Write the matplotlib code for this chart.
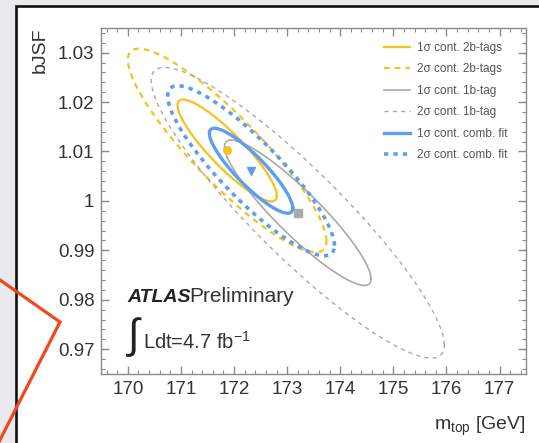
import numpy as np
import matplotlib
matplotlib.use("Agg")
from matplotlib import pyplot as plt
from matplotlib.lines import Line2D
from matplotlib.patches import Rectangle
from matplotlib.ticker import MultipleLocator, FuncFormatter

plt.rcParams["font.family"] = ["Liberation Sans", "DejaVu Sans"]
plt.rcParams["mathtext.fontset"] = "custom"
plt.rcParams["mathtext.rm"] = "Liberation Sans"

# fit results: best point, 1 sigma widths and correlation
fits = ["2b-tags", "1b-tag", "comb. fit"]
mtop_best = [171.87, 173.20, 172.32]
bjsf_best = [1.0102, 0.9976, 1.0061]
sigma_mtop = [0.935, 1.38, 0.785]
sigma_bjsf = [0.0103, 0.0147, 0.0086]
rho = [-0.89, -0.91, -0.88]
n_sigma = [1, 2]

x_ticks = [170, 171, 172, 173, 174, 175, 176, 177]
y_ticks = [0.97, 0.98, 0.99, 1.00, 1.01, 1.02, 1.03]

colors = ["#f5c21e", "#a9a9a9", "#5d9ef0"]
markers = ["o", "s", "v"]
solid_lw = [1.6, 1.2, 2.4]
dash_styles = [(0, (2.6, 2.2)), (0, (3, 3)), (0, (1.2, 1.4))]
dash_lw = [1.6, 1.0, 2.6]

fig = plt.figure(figsize=(5.39, 4.43), dpi=100)
fig.patch.set_facecolor("#e9e9ee")

# white slide panel behind the plot
panel = Rectangle((15.5 / 539, -0.05), 1.1, 1 - 5.5 / 443 + 0.05,
                  transform=fig.transFigure, facecolor="white",
                  edgecolor="#111111", linewidth=1.9, zorder=0)
fig.add_artist(panel)

ax = fig.add_axes([0.188, 0.156, 0.788, 0.781])
ax.set_zorder(1)

t = np.linspace(0, 2 * np.pi, 400)


def contour(i, n):
    s = np.sqrt(1 - rho[i] ** 2)
    x = mtop_best[i] + n * sigma_mtop[i] * np.cos(t)
    y = bjsf_best[i] + n * sigma_bjsf[i] * (rho[i] * np.cos(t) + s * np.sin(t))
    return x, y


handles = []
labels = []
for i, name in enumerate(fits):
    for n in n_sigma:
        x, y = contour(i, n)
        if n == 1:
            ln, = ax.plot(x, y, color=colors[i], lw=solid_lw[i])
        else:
            ln, = ax.plot(x, y, color=colors[i], lw=dash_lw[i], linestyle=dash_styles[i])
        handles.append(ln)
        labels.append(f"{n}\u03c3 cont. {name}")
    ax.plot(mtop_best[i], bjsf_best[i], marker=markers[i], color=colors[i],
            markersize=5.5, zorder=5)

ax.set_xlim(169.5, 177.5)
ax.set_ylim(0.965, 1.035)
ax.set_xticks(x_ticks)
ax.set_yticks(y_ticks)
ax.xaxis.set_minor_locator(MultipleLocator(0.2))
ax.yaxis.set_minor_locator(MultipleLocator(0.002))
ax.yaxis.set_major_formatter(FuncFormatter(lambda v, p: f"{v:g}"))
ax.tick_params(which="both", direction="in", top=True, right=True,
               color="#8a8a8a", labelsize=13.5, labelcolor="#333333")
ax.tick_params(which="major", length=6, width=1, pad=5)
ax.tick_params(which="minor", length=3, width=0.8)
for sp in ax.spines.values():
    sp.set_color("#8a8a8a")
    sp.set_linewidth(1.0)

ax.text(-0.145, 1.0, "bJSF", rotation=90, ha="center", va="top",
        fontsize=14, color="#333333", transform=ax.transAxes)
ax.text(1.0, -0.152, r"m$_{\mathregular{top}}$ [GeV]", ha="right", va="center",
        fontsize=14, color="#333333", transform=ax.transAxes)

ax.text(0.062, 0.209, "ATLAS", fontsize=14, fontweight="bold", fontstyle="italic",
        color="#222222", va="baseline", transform=ax.transAxes)
ax.text(0.208, 0.209, "Preliminary", fontsize=15, color="#333333",
        va="baseline", transform=ax.transAxes)
ax.text(0.062, 0.107, "\u222b", fontsize=30, color="#222222", ha="left",
        va="center", transform=ax.transAxes)
ax.text(0.098, 0.072, r"Ldt=4.7 fb$^{\mathregular{-1}}$", fontsize=14.5,
        color="#333333", va="baseline", transform=ax.transAxes)

ax.legend(handles, labels, loc="upper left", bbox_to_anchor=(0.64, 0.99),
          frameon=False, fontsize=8.5, handlelength=2.2, labelspacing=0.8,
          handletextpad=0.6, labelcolor="#555555")

# orange annotation stroke on the slide
fig.add_artist(Line2D([0, 60 / 539, -0.005], [1 - 280 / 443, 1 - 322 / 443, -0.005],
                      transform=fig.transFigure, color="#f2461c", lw=2.3,
                      solid_joinstyle="miter", zorder=10))

fig.savefig("out.png", dpi=100, facecolor=fig.get_facecolor())
